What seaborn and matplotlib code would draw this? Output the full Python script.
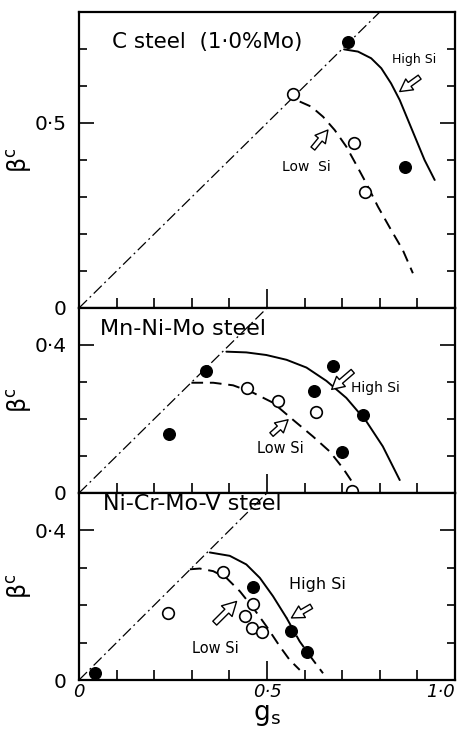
import matplotlib
matplotlib.use("Agg")
import matplotlib.pyplot as plt
import seaborn as sns
import numpy as np

sns.set_style('ticks')
plt.rcParams['font.family'] = ['DejaVu Sans']
plt.rcParams['text.color'] = 'black'
plt.rcParams['axes.labelcolor'] = 'black'
plt.rcParams['xtick.color'] = 'black'
plt.rcParams['ytick.color'] = 'black'
plt.rcParams['lines.solid_joinstyle'] = 'round'

# ---- panel 1 : C steel (1.0%Mo) ----
c_high_x = [0.715, 0.867]
c_high_y = [0.720, 0.380]
c_low_x = [0.570, 0.732, 0.760]
c_low_y = [0.578, 0.446, 0.313]
c_high_curve_x = [0.705, 0.742, 0.777, 0.804, 0.830, 0.853, 0.875, 0.897, 0.919, 0.946]
c_high_curve_y = [0.699, 0.693, 0.675, 0.648, 0.607, 0.562, 0.508, 0.454, 0.400, 0.346]
c_low_curve_x = [0.587, 0.618, 0.649, 0.680, 0.711, 0.738, 0.764, 0.795, 0.830, 0.861, 0.888]
c_low_curve_y = [0.558, 0.544, 0.517, 0.481, 0.436, 0.386, 0.337, 0.274, 0.211, 0.157, 0.094]

# ---- panel 2 : Mn-Ni-Mo steel ----
m_high_x = [0.239, 0.337, 0.625, 0.676, 0.754, 0.700]
m_high_y = [0.160, 0.330, 0.275, 0.342, 0.210, 0.110]
m_low_x = [0.446, 0.530, 0.630, 0.725]
m_low_y = [0.283, 0.250, 0.218, 0.005]
m_high_curve_x = [0.392, 0.445, 0.498, 0.552, 0.605, 0.658, 0.711, 0.764, 0.808, 0.853]
m_high_curve_y = [0.382, 0.380, 0.373, 0.360, 0.339, 0.303, 0.257, 0.194, 0.126, 0.035]
m_low_curve_x = [0.299, 0.357, 0.410, 0.463, 0.516, 0.569, 0.622, 0.667, 0.702, 0.729]
m_low_curve_y = [0.298, 0.298, 0.291, 0.271, 0.244, 0.198, 0.153, 0.112, 0.067, 0.026]

# ---- panel 3 : Ni-Cr-Mo-V steel ----
n_high_x = [0.043, 0.463, 0.563, 0.606]
n_high_y = [0.018, 0.249, 0.130, 0.075]
n_low_x = [0.237, 0.382, 0.462, 0.441, 0.460, 0.486]
n_low_y = [0.178, 0.288, 0.204, 0.172, 0.140, 0.129]
n_high_curve_x = [0.348, 0.401, 0.445, 0.481, 0.516, 0.552]
n_high_curve_y = [0.341, 0.332, 0.309, 0.273, 0.224, 0.166]
n_high_tail_x = [0.552, 0.587, 0.622, 0.649]
n_high_tail_y = [0.166, 0.103, 0.054, 0.018]
n_low_curve_x = [0.295, 0.321, 0.357, 0.392, 0.428, 0.463, 0.499, 0.534, 0.560, 0.587]
n_low_curve_y = [0.296, 0.298, 0.291, 0.273, 0.237, 0.193, 0.143, 0.090, 0.054, 0.027]

titles = ['C steel  (1·0%Mo)', 'Mn-Ni-Mo steel', 'Ni-Cr-Mo-V steel']

fig = plt.figure(figsize=(4.67, 7.31), dpi=100)
L, W = 79 / 467, 376 / 467
ax1 = fig.add_axes([L, 1 - 308 / 731, W, 296 / 731])
ax2 = fig.add_axes([L, 1 - 493 / 731, W, 185 / 731])
ax3 = fig.add_axes([L, 1 - 680 / 731, W, 187 / 731])

dashdot = (0, (9, 3, 1.5, 3))
dashed = (0, (6, 3.5))


def hollow_arrow(ax, tail, head, scale=16):
    ax.annotate('', xy=head, xytext=tail,
                arrowprops=dict(arrowstyle='simple,head_length=0.55,head_width=0.6,tail_width=0.22',
                                fc='white', ec='black', lw=1.0, mutation_scale=scale,
                                shrinkA=0, shrinkB=0))


def panel(ax, ymax, yticks, ylabels, hx, hy, lx, ly, hcx, hcy, lcx, lcy):
    ax.axline((0, 0), slope=1, color='black', lw=0.9, linestyle=dashdot)
    sns.lineplot(x=hcx, y=hcy, ax=ax, color='black', lw=1.4, sort=False, estimator=None)
    sns.lineplot(x=lcx, y=lcy, ax=ax, color='black', lw=1.4, sort=False, estimator=None,
                 linestyle=dashed)
    sns.scatterplot(x=hx, y=hy, ax=ax, s=70, color='black', edgecolor='black',
                    linewidth=1.0, zorder=4)
    sns.scatterplot(x=lx, y=ly, ax=ax, s=70, color='white', edgecolor='black',
                    linewidth=1.2, zorder=4)
    ax.set_xlim(0, 1.0)
    ax.set_ylim(0, ymax)
    ax.set_xticks([0, 0.5, 1.0])
    ax.set_xticks(np.arange(0, 1.01, 0.1), minor=True)
    ax.set_yticks(yticks)
    ax.set_yticklabels(ylabels, fontsize=14.5)
    ax.set_yticks(np.arange(0, ymax + 0.001, 0.1), minor=True)
    ax.tick_params(axis='both', which='both', direction='in', right=True, top=False,
                   width=1.2, color='black')
    ax.tick_params(axis='y', which='major', length=11, pad=9)
    ax.tick_params(axis='y', which='minor', length=6)
    ax.tick_params(axis='x', which='major', length=14)
    ax.tick_params(axis='x', which='minor', length=7)
    for s in ax.spines.values():
        s.set_linewidth(1.6)
        s.set_color('black')
    ax.set_ylabel(r'$\mathrm{\beta}^\mathrm{c}$', fontsize=17)
    ax.yaxis.set_label_coords(-0.12, 0.5)
    ax.set_xlabel('')


panel(ax1, 0.8, [0, 0.5], ['0', '0·5'], c_high_x, c_high_y, c_low_x, c_low_y,
      c_high_curve_x, c_high_curve_y, c_low_curve_x, c_low_curve_y)
panel(ax2, 0.5, [0, 0.4], ['0', '0·4'], m_high_x, m_high_y, m_low_x, m_low_y,
      m_high_curve_x, m_high_curve_y, m_low_curve_x, m_low_curve_y)
panel(ax3, 0.5, [0, 0.4], ['0', '0·4'], n_high_x, n_high_y, n_low_x, n_low_y,
      n_high_curve_x, n_high_curve_y, n_low_curve_x, n_low_curve_y)
sns.lineplot(x=n_high_tail_x, y=n_high_tail_y, ax=ax3, color='black', lw=1.4, sort=False,
             estimator=None, linestyle=(0, (7, 3.5)))

for ax in (ax1, ax2):
    ax.tick_params(axis='x', which='both', labelbottom=False)
ax3.set_xticklabels(['0', '0·5', '1·0'], fontsize=13, style='italic')
ax3.get_xticklabels()[-1].set_ha('right')
ax3.tick_params(axis='x', which='major', pad=2)
ax3.set_xlabel(r'$\mathrm{g}_\mathrm{s}$', fontsize=19, labelpad=1)

# titles
ax1.text(0.088, 0.719, titles[0], fontsize=15.5, va='center', ha='left')
ax2.text(0.056, 0.443, titles[1], fontsize=16, va='center', ha='left')
ax3.text(0.064, 0.470, titles[2], fontsize=16, va='center', ha='left')

# labels and arrows
ax1.text(0.892, 0.672, 'High Si', fontsize=9, ha='center', va='center')
ax1.text(0.605, 0.380, 'Low  Si', fontsize=10, ha='center', va='center')
hollow_arrow(ax1, (0.906, 0.624), (0.853, 0.585))
hollow_arrow(ax1, (0.622, 0.431), (0.662, 0.481))

ax2.text(0.788, 0.283, 'High Si', fontsize=10, ha='center', va='center')
ax2.text(0.536, 0.120, 'Low Si', fontsize=10.5, ha='center', va='center')
hollow_arrow(ax2, (0.728, 0.329), (0.672, 0.280))
hollow_arrow(ax2, (0.512, 0.158), (0.556, 0.198))

ax3.text(0.633, 0.255, 'High Si', fontsize=11.5, ha='center', va='center')
ax3.text(0.363, 0.083, 'Low Si', fontsize=10.5, ha='center', va='center')
hollow_arrow(ax3, (0.618, 0.197), (0.565, 0.166))
hollow_arrow(ax3, (0.361, 0.152), (0.419, 0.210), scale=18)

fig.savefig('out.png', dpi=100)
